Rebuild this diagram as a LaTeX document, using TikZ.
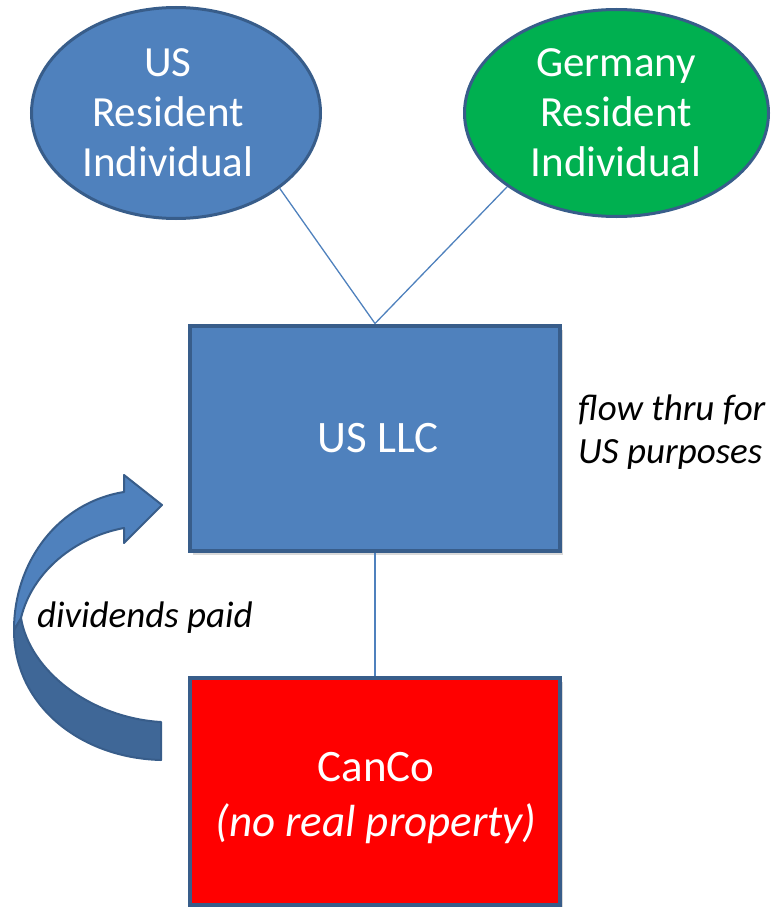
\documentclass[tikz,border=0pt]{standalone}
\usepackage{fontspec}
\setmainfont{Carlito}
\usetikzlibrary{shapes.geometric,shadows}
\definecolor{accblue}{HTML}{4F81BD}
\definecolor{edgeblue}{HTML}{385D8A}
\definecolor{darkband}{HTML}{3F6797}
\definecolor{gergreen}{HTML}{00B050}
\begin{document}
\begin{tikzpicture}[x=1pt,y=-1pt,
  person/.style={ellipse, draw=edgeblue, line width=3pt, inner sep=0pt},
  persontext/.style={text=white, align=center, inner sep=0pt, font=\fontsize{43}{50}\selectfont},
  entity/.style={rectangle, draw=edgeblue, line width=4pt, text=white, align=center, minimum width=370pt, minimum height=225pt, inner sep=0pt, font=\fontsize{45}{55}\selectfont, drop shadow={opacity=0.3, shadow xshift=3pt, shadow yshift=-4pt}},
  link/.style={draw=accblue, line width=1.3pt},
  note/.style={font=\fontsize{37}{43}\selectfont\itshape, align=left, text=black, inner sep=0pt},
  bandedge/.style={draw=edgeblue, line width=2pt, line join=round}]
\useasboundingbox (0,0) rectangle (773,907);
% curved arrow
\path[bandedge, fill=darkband] (14,630) .. controls (14,705) and (80,758) .. (161,760) -- (161,722) .. controls (92,718) and (30,672) .. (21,618) -- cycle;
\path[bandedge, fill=accblue] (162,505) -- (124,475) -- (124,492) .. controls (60,502) and (14,560) .. (14,630) -- (21,618) .. controls (32,572) and (75,537) .. (124,528) -- (124,543) -- cycle;
% nodes
\node[person, fill=accblue, minimum width=289pt, minimum height=211pt] (us) at (176,113) {};
\node[persontext] (ustext) at (168,113) {US\\Resident\\Individual};
\node[person, fill=gergreen, minimum width=304pt, minimum height=207pt] (de) at (616.5,113) {};
\node[persontext] (detext) at (616,113) {Germany\\Resident\\Individual};
\node[entity, fill=accblue] (llc) at (375,438) {\hspace*{6pt}US LLC};
\node[entity, fill=red, minimum height=227pt] (canco) at (375,791.5) {};
\node[text=white, align=center, inner sep=0pt, font=\fontsize{45}{55}\selectfont] (cancotext) at (376,798) {CanCo\\\textit{(no real property)}};
% connectors
\draw[link] (us.-36) -- (llc.north);
\draw[link] (de.-146) -- (llc.north);
\draw[link] (llc) -- (canco);
% notes
\node[note, anchor=west] (flow) at (578,432) {flow thru for\\US purposes};
\node[note, anchor=west] (div) at (37,618) {dividends paid};
\end{tikzpicture}
\end{document}
